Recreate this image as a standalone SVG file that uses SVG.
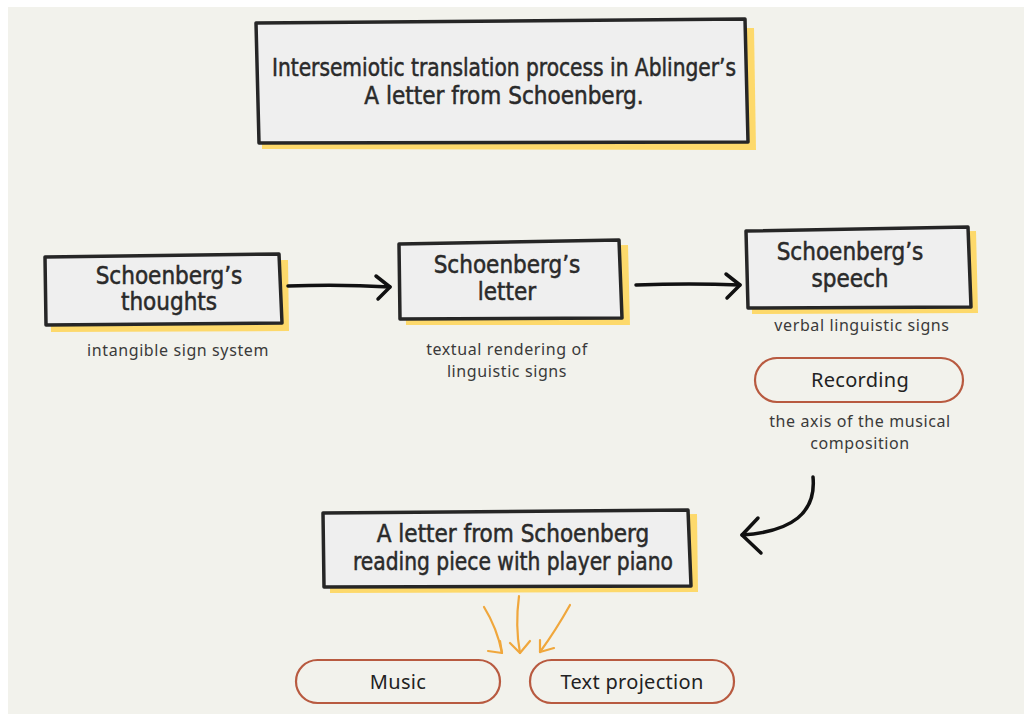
<svg xmlns="http://www.w3.org/2000/svg" width="1024" height="714" viewBox="0 0 1024 714">
<defs>
<style>
.bg{fill:#f2f2ec}
.shadow{fill:#fdd96b}
.box{fill:#efefef;stroke:#262626;stroke-width:3.5;stroke-linejoin:round}
.hand{font-family:"DejaVu Sans Condensed","DejaVu Sans",sans-serif;font-size:24px;fill:#2a2a2a;stroke:#2a2a2a;stroke-width:0.5;text-anchor:middle}
.sub{font-family:"Noto Sans","DejaVu Sans",sans-serif;font-size:16px;letter-spacing:0.6px;fill:#3a3a3a;text-anchor:middle}
.pill{fill:none;stroke:#b85a40;stroke-width:2.2}
.pilltext{font-family:"Noto Sans","DejaVu Sans",sans-serif;font-size:20px;letter-spacing:0.3px;fill:#222;text-anchor:middle}
.blk{fill:none;stroke:#111;stroke-width:3.5;stroke-linecap:round;stroke-linejoin:round}
.org{fill:none;stroke:#f0a73c;stroke-width:2.2;stroke-linecap:round;stroke-linejoin:round}
</style>
</defs>
<rect x="0" y="0" width="1024" height="714" fill="#ffffff"/>
<rect class="bg" x="8" y="7" width="1016" height="707"/>

<g id="title">
<path class="shadow" d="M262 30 L754 28 L756 150 L262 149 Z"/>
<path class="box" d="M256 23 L745 19 L748 142 L259 143 Z"/>
<text class="hand" x="504" y="76" textLength="464" lengthAdjust="spacingAndGlyphs">Intersemiotic translation process in Ablinger’s</text>
<text class="hand" x="504" y="104">A letter from Schoenberg.</text>
</g>

<g id="node-thoughts">
<path class="shadow" d="M50 262 L288 260 L289 331 L51 332 Z"/>
<path class="box" d="M45 257 L279 254 L282 323 L46 325 Z"/>
<text class="hand" x="169" y="284">Schoenberg’s</text>
<text class="hand" x="169" y="310">thoughts</text>
</g>
<text class="sub" x="178" y="356">intangible sign system</text>

<g id="node-letter">
<path class="shadow" d="M405 248 L628 245 L630 325 L406 325 Z"/>
<path class="box" d="M399 244 L619 240 L622 318 L400 319 Z"/>
<text class="hand" x="507" y="273">Schoenberg’s</text>
<text class="hand" x="507" y="300">letter</text>
</g>
<text class="sub" x="507" y="355">textual rendering of</text>
<text class="sub" x="507" y="377">linguistic signs</text>

<g id="node-speech">
<path class="shadow" d="M752 234 L976 231 L978 313 L752 314 Z"/>
<path class="box" d="M746 231 L968 227 L971 307 L748 308 Z"/>
<text class="hand" x="850" y="260">Schoenberg’s</text>
<text class="hand" x="850" y="287">speech</text>
</g>
<text class="sub" x="862" y="331">verbal linguistic signs</text>

<g id="node-recording">
<rect class="pill" x="755" y="358" width="208" height="44" rx="22"/>
<text class="pilltext" x="860" y="387">Recording</text>
</g>
<text class="sub" x="860" y="427">the axis of the musical</text>
<text class="sub" x="860" y="449">composition</text>

<g id="node-piece">
<path class="shadow" d="M330 518 L697 514 L698 592 L330 593 Z"/>
<path class="box" d="M323 513 L688 510 L691 586 L324 587 Z"/>
<text class="hand" x="513" y="542">A letter from Schoenberg</text>
<text class="hand" x="513" y="570" textLength="320" lengthAdjust="spacingAndGlyphs">reading piece with player piano</text>
</g>

<g id="node-music">
<rect class="pill" x="296" y="660" width="204" height="43" rx="21.5"/>
<text class="pilltext" x="398" y="689">Music</text>
</g>

<g id="node-textprojection">
<rect class="pill" x="530" y="660" width="204" height="43" rx="21.5"/>
<text class="pilltext" x="632" y="689">Text projection</text>
</g>

<g id="connectors">
<path class="blk" d="M288 286 Q340 284 390 287"/>
<path class="blk" d="M376 276 L390 287 L378 299"/>
<path class="blk" d="M636 285 Q690 283 740 285"/>
<path class="blk" d="M726 274 L740 285 L727 298"/>
<path class="blk" d="M813 477 Q818 530 742 535"/>
<path class="blk" d="M758 518 L742 535 L761 553"/>
<path class="org" d="M484 607 Q497 628 502 653"/>
<path class="org" d="M488 651 L502 653 L500 641"/>
<path class="org" d="M519 596 Q515 626 520 653"/>
<path class="org" d="M510 643 L520 653 L530 641"/>
<path class="org" d="M570 605 Q556 630 540 652"/>
<path class="org" d="M540 640 L540 652 L554 648"/>
</g>
</svg>
